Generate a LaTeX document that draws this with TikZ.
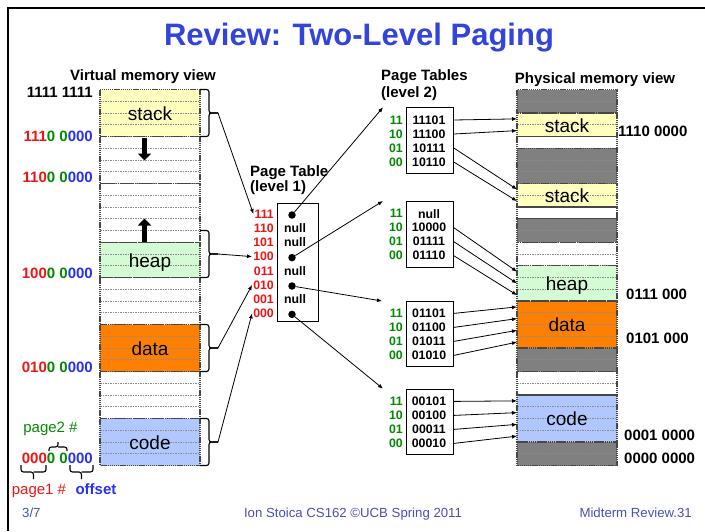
\documentclass[tikz,border=0pt]{standalone}
\usepackage{fontspec}
\setmainfont{Liberation Sans}
\usetikzlibrary{arrows.meta}
\definecolor{myred}{RGB}{240,20,20}
\definecolor{mygreen}{RGB}{0,140,0}
\definecolor{myblue}{RGB}{40,50,240}
\definecolor{titleblue}{RGB}{51,68,221}
\definecolor{footc}{RGB}{70,80,190}
\definecolor{stackc}{RGB}{255,255,190}
\definecolor{heapc}{RGB}{212,252,212}
\definecolor{datac}{RGB}{255,128,0}
\definecolor{codec}{RGB}{176,200,255}
\definecolor{memgray}{RGB}{128,128,128}
\newcommand{\cR}[1]{\textcolor{myred}{#1}}
\newcommand{\cG}[1]{\textcolor{mygreen}{#1}}
\newcommand{\cB}[1]{\textcolor{myblue}{#1}}
\begin{document}
\begin{tikzpicture}[x=1pt,y=-1pt,
  every node/.style={inner sep=1pt},
  hd/.style={font=\fontsize{15}{17}\selectfont\bfseries},
  addr/.style={font=\fontsize{15}{17}\selectfont\bfseries},
  seg/.style={font=\fontsize{19}{22}\selectfont, anchor=base},
  small/.style={font=\fontsize{12.3}{14}\selectfont\bfseries},
  rowline/.style={draw=black!45, line width=0.6pt, dash pattern=on 1.5pt off 1pt},
  blockb/.style={draw=black!72, line width=1.3pt, dash pattern=on 1.2pt off 0.7pt},
  conn/.style={line width=0.8pt, -{Latex[length=5pt,width=4pt]}},
  br/.style={line width=1.1pt, rounded corners=2.5pt},
  tbl/.style={draw, line width=0.8pt, anchor=north west, inner sep=0pt},
  foot/.style={font=\fontsize{13.2}{15}\selectfont, text=footc},
  bigarrow/.style={line width=4.5pt, -{Triangle[length=7pt,width=13pt]}}
]
\useasboundingbox (0,0) rectangle (705,531);
\fill[white] (0,0) rectangle (705,531);
\draw[line width=2pt] (8,531) -- (8,8) -- (705,8);

% title and headings
\node[font=\fontsize{31}{36}\selectfont\bfseries, text=titleblue, anchor=base] (title) at (359,45) {Review: Two-Level Paging};
\node[hd, anchor=base] (vmv) at (143,80) {Virtual memory view};
\node[hd, anchor=base west] (pt1a) at (249,176) {Page Table};
\node[hd, anchor=base west] (pt1b) at (249,191.5) {(level 1)};
\node[hd, anchor=base west] (pt2a) at (380,80) {Page Tables};
\node[hd, anchor=base west] (pt2b) at (380,97) {(level 2)};
\node[hd, anchor=base] (pmv) at (595,83) {Physical memory view};

% virtual memory column
\foreach \rr/\nn/\cl in {0/4/stackc,4/4/white,8/5/white,13/3/heapc,16/4/white,20/4/datac,24/4/white,28/4/codec}
  \fill[\cl] (100,{89.5+\rr*11.75}) rectangle (200,{89.5+(\rr+\nn)*11.75});
\foreach \k in {1,...,31}
  \draw[rowline] (100,{89.5+\k*11.75}) -- (200,{89.5+\k*11.75});
\foreach \rr/\nn in {0/4,4/4,8/5,13/3,16/4,20/4,24/4,28/4}
  \draw[blockb] (100,{89.5+\rr*11.75}) rectangle (200,{89.5+(\rr+\nn)*11.75});
\node[seg] (vstack) at (150,120) {stack};
\node[seg] (vheap) at (150,267) {heap};
\node[seg] (vdata) at (150,355) {data};
\node[seg] (vcode) at (150,449) {code};
\draw[bigarrow] (144.5,137.5) -- (144.5,160.5);
\draw[bigarrow] (144.5,242) -- (144.5,218.5);

% physical memory column
\foreach \rr/\nn/\cl in {0/2/memgray,2/2/stackc,4/1/white,5/3/memgray,8/2/stackc,10/1/white,11/2/memgray,13/2/white,15/3/heapc,18/4/datac,22/2/memgray,24/2/white,26/4/codec,30/2/memgray}
  \fill[\cl] (517,{89.5+\rr*11.75}) rectangle (617,{89.5+(\rr+\nn)*11.75});
\foreach \k in {1,...,31}
  \draw[rowline] (517,{89.5+\k*11.75}) -- (617,{89.5+\k*11.75});
\foreach \rr/\nn in {0/2,2/2,4/1,5/3,8/2,10/1,11/2,13/2,15/3,18/4,22/2,24/2,26/4,30/2}
  \draw[blockb] (517,{89.5+\rr*11.75}) rectangle (617,{89.5+(\rr+\nn)*11.75});
\node[seg] (pstack1) at (567,132) {stack};
\node[seg] (pstack2) at (567,202) {stack};
\node[seg] (pheap) at (567,290.5) {heap};
\node[seg] (pdata) at (567,331.5) {data};
\node[seg] (pcode) at (567,425.5) {code};
\foreach \f in {0,...,31}
  \coordinate (f\f) at (517,{89.5+(31-\f+0.5)*11.75});

% virtual addresses
\node[addr, anchor=east] (a255) at (94,92) {1111 1111};
\node[addr, anchor=east] (a224) at (94,136.7) {\cR{111}\cG{0 0}\cB{000}};
\node[addr, anchor=east] (a192) at (94,177.5) {\cR{110}\cG{0 0}\cB{000}};
\node[addr, anchor=east] (a128) at (94,273.5) {\cR{100}\cG{0 0}\cB{000}};
\node[addr, anchor=east] (a64) at (94,367.5) {\cR{010}\cG{0 0}\cB{000}};
\node[addr, anchor=east] (a0) at (94,458.5) {\cR{000}\cG{0 0}\cB{000}};

% physical addresses
\node[addr, anchor=west] (pa224) at (617,131) {1110 0000};
\node[addr, anchor=west] (pa112) at (625,294.5) {0111 000};
\node[addr, anchor=west] (pa80) at (625,338.5) {0101 000};
\node[addr, anchor=west] (pa16) at (623,435) {0001 0000};
\node[addr, anchor=west] (pa0) at (623,458.5) {0000 0000};

% bit-field braces
\draw[br] (21,465) |- (33.5,472) -- (33.5,479);
\draw[br] (46,465) |- (33.5,472);
\draw[br] (49,451) |- (58,447) -- (58,442);
\draw[br] (67,451) |- (58,447);
\draw[br] (70,465) |- (81.5,472) -- (81.5,479);
\draw[br] (93,465) |- (81.5,472);
\node[font=\fontsize{15}{17}\selectfont, text=myred, anchor=base] (p1) at (39,494) {page1 \#};
\node[font=\fontsize{15}{17}\selectfont\bfseries, text=myblue, anchor=base] (off) at (96,494) {offset};
\node[font=\fontsize{15}{17}\selectfont, text=mygreen, anchor=base] (p2) at (50.5,432.5) {page2 \#};

% segment braces
\foreach \tp/\bt/\nm in {89.5/136.5/bs, 230.5/277.5/bh, 324.5/371.5/bd, 418.5/465.5/bc} {
  \draw[br] (200,\tp) -| (209,{(\tp+\bt)/2}) -- (218,{(\tp+\bt)/2});
  \draw[br] (200,\bt) -| (209,{(\tp+\bt)/2}) -- (218,{(\tp+\bt)/2});
  \coordinate (\nm) at (218,{(\tp+\bt)/2});
}

% level-1 page table
\node[tbl, minimum width=41pt, minimum height=117.5pt] (l1) at (277,203.2) {};
\foreach \k/\lab in {0/111,1/110,2/101,3/100,4/011,5/010,6/001,7/000}
  \node[small, text=myred, anchor=east] (q\lab) at (275,{214+14.2*\k}) {\lab};
\foreach \k/\lab in {0/111,3/100,5/010,7/000}
  \node[circle, fill, inner sep=0pt, minimum size=7.5pt] (d\lab) at (292,{215+14.2*\k}) {};
\foreach \k/\lab in {1/110,2/101,4/011,6/001}
  \node[small] (n\lab) at (295,{214+14.2*\k}) {null};

% level-2 page tables
\foreach \b/\tp/\va/\vb/\vc/\vd in {1/107.3/11101/11100/10111/10110, 2/201/null/10000/01111/01110, 3/300.7/01101/01100/01011/01010, 4/388.7/00101/00100/00011/00010} {
  \node[tbl, minimum width=47pt, minimum height=65.5pt] (b\b) at (406,\tp) {};
  \foreach \k/\g in {0/11,1/10,2/01,3/00}
    \node[small, text=mygreen, anchor=east] (g\b x\g) at (404,{\tp+12.7+14*\k}) {\g};
  \node[small] (v\b a) at (429,{\tp+12.7}) {\va};
  \node[small] (v\b b) at (429,{\tp+26.7}) {\vb};
  \node[small] (v\b c) at (429,{\tp+40.7}) {\vc};
  \node[small] (v\b d) at (429,{\tp+54.7}) {\vd};
}
\coordinate (e1) at (383,107.3);
\coordinate (e2) at (383,201);
\coordinate (e3) at (382,301);
\coordinate (e4) at (383,388.7);

% connectors: virtual -> level 1
\draw[conn] (bs) -- (q111.west);
\draw[conn] (bh) -- (q100.west);
\draw[conn] (bd) -- (q010.west);
\draw[conn] (bc) -- (q000.west);
% level 1 -> level 2
\draw[conn] (d111) -- (e1);
\draw[conn] (d100) -- (e2);
\draw[conn] (d010) -- (e3);
\draw[conn] (d000) -- (e4);
% level 2 -> physical
\foreach \src/\fr in {1a/29,1b/28,1c/23,1d/22,2b/16,2c/15,2d/14,3a/13,3b/12,3c/11,3d/10,4a/5,4b/4,4c/3,4d/2}
  \draw[conn] (b1.east |- v\src) -- (f\fr);

% footer
\node[foot, anchor=base west] (ft1) at (21,517) {3/7};
\node[foot, anchor=base] (ft2) at (353,517) {Ion Stoica CS162 ©UCB Spring 2011};
\node[foot, anchor=base east] (ft3) at (693,517) {Midterm Review.31};
\end{tikzpicture}
\end{document}
